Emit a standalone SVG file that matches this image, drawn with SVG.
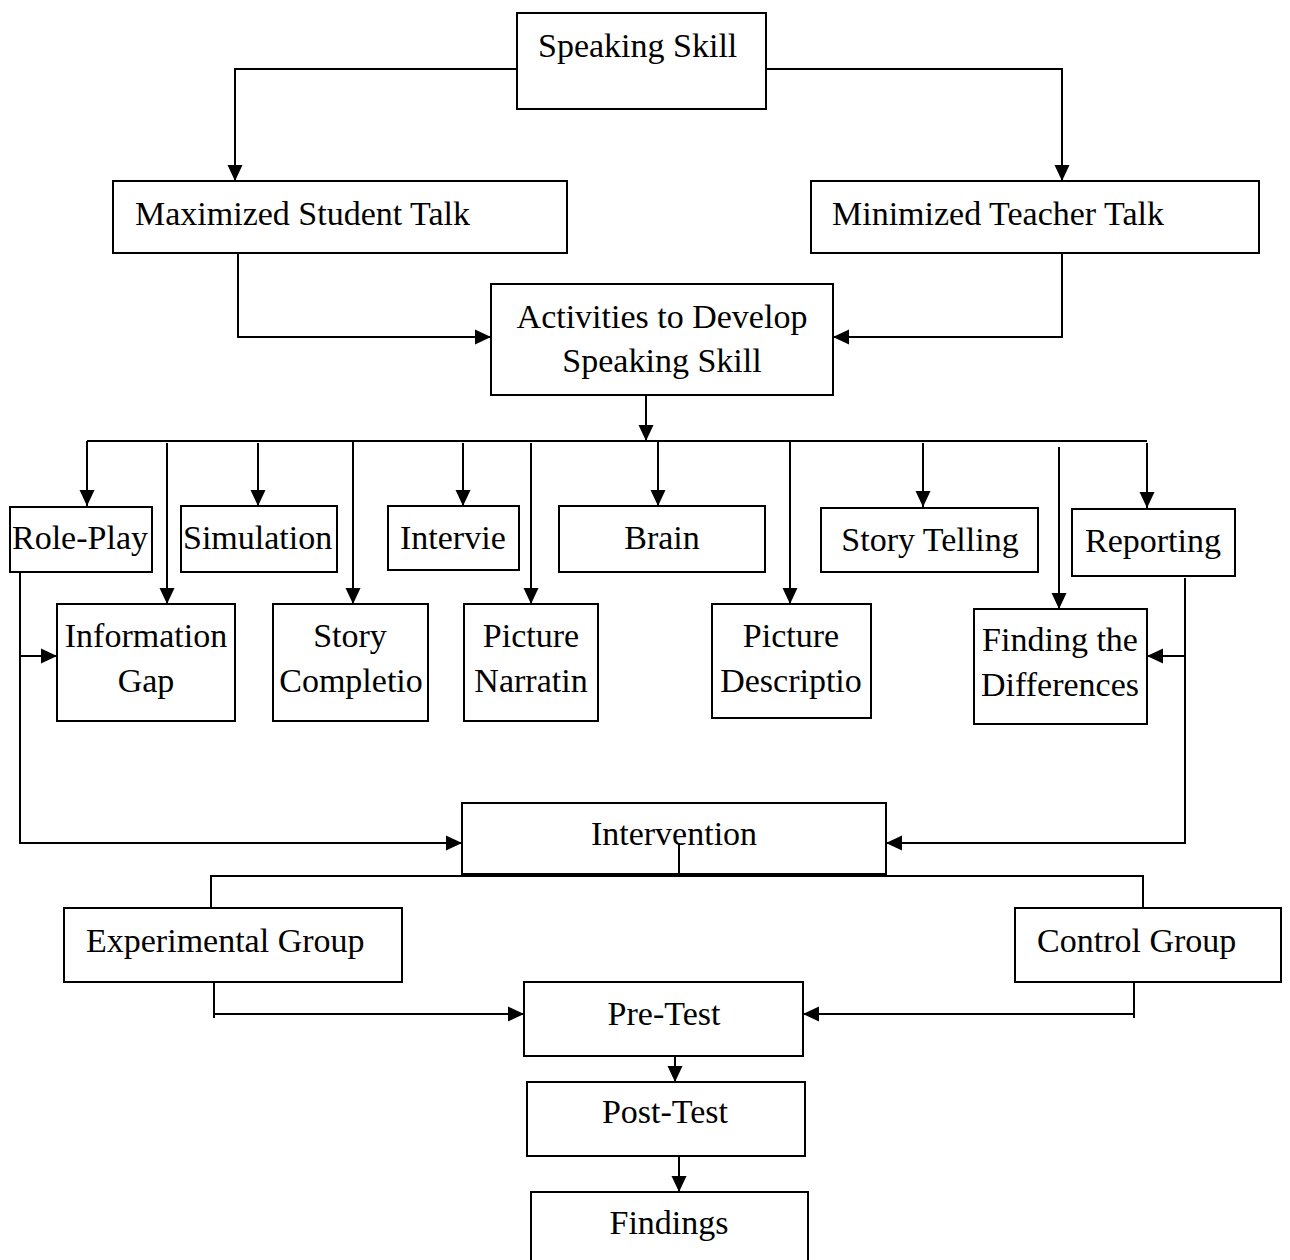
<svg xmlns="http://www.w3.org/2000/svg" width="1290" height="1260" viewBox="0 0 1290 1260">
<style>
.box{fill:#fff;stroke:#000;stroke-width:2}
.t{font-family:"Liberation Serif","Times New Roman",serif;font-size:34px;fill:#000}
.c{fill:none;stroke:#000;stroke-width:2}
.a{fill:none;stroke:#000;stroke-width:2;marker-end:url(#ah)}
</style>
<defs>
<marker id="ah" markerUnits="userSpaceOnUse" markerWidth="18" markerHeight="18" viewBox="0 0 18 18" refX="16" refY="9" orient="auto">
<path d="M0,1.5 L16,9 L0,16.5 Z" fill="#000"/>
</marker>
</defs>
<rect width="1290" height="1260" fill="#fff"/>
<g id="connectors">
<path class="a" d="M517,69 H235 V181"/>
<path class="a" d="M766,69 H1062 V181"/>
<path class="a" d="M238,253 V337 H491"/>
<path class="a" d="M1062,253 V337 H833"/>
<path class="a" d="M646,395 V441"/>
<path class="c" d="M87,441 H1147"/>
<path class="a" d="M87,441 V506"/>
<path class="a" d="M167,443 V604"/>
<path class="a" d="M258,443 V506"/>
<path class="a" d="M353,441 V604"/>
<path class="a" d="M463,443 V506"/>
<path class="a" d="M531,443 V604"/>
<path class="a" d="M658,441 V506"/>
<path class="a" d="M790,441 V604"/>
<path class="a" d="M923,443 V507"/>
<path class="a" d="M1059,447 V609"/>
<path class="a" d="M1147,443 V508"/>
<path class="a" d="M20,572 V843 H462"/>
<path class="a" d="M20,656 H57"/>
<path class="a" d="M1185,578 V843 H886"/>
<path class="a" d="M1185,656 H1147"/>
<path class="c" d="M679,843 V876"/>
<path class="c" d="M211,908 V876 H1143 V908"/>
<path class="c" d="M214,982 V1018"/>
<path class="a" d="M214,1014 H524"/>
<path class="c" d="M1134,982 V1018"/>
<path class="a" d="M1134,1014 H803"/>
<path class="a" d="M675,1052 V1082"/>
<path class="a" d="M679,1156 V1192"/>
</g>
<g id="speaking-skill"><rect class="box" x="517" y="13" width="249" height="96"/><text class="t" x="538" y="57">Speaking Skill</text></g>
<g id="maximized"><rect class="box" x="113" y="181" width="454" height="72"/><text class="t" x="135" y="225">Maximized Student Talk</text></g>
<g id="minimized"><rect class="box" x="811" y="181" width="448" height="72"/><text class="t" x="832" y="225">Minimized Teacher Talk</text></g>
<g id="activities"><rect class="box" x="491" y="284" width="342" height="111"/><text class="t" x="662" y="328" text-anchor="middle">Activities to Develop</text><text class="t" x="662" y="372" text-anchor="middle">Speaking Skill</text></g>
<g id="role-play"><rect class="box" x="10" y="507" width="142" height="65"/><text class="t" x="12" y="549">Role-Play</text></g>
<g id="simulation"><rect class="box" x="181" y="506" width="156" height="66"/><text class="t" x="183" y="549">Simulation</text></g>
<g id="intervie"><rect class="box" x="388" y="506" width="131" height="64"/><text class="t" x="400" y="549">Intervie</text></g>
<g id="brain"><rect class="box" x="559" y="506" width="206" height="66"/><text class="t" x="662" y="549" text-anchor="middle">Brain</text></g>
<g id="story-telling"><rect class="box" x="821" y="508" width="217" height="64"/><text class="t" x="930" y="551" text-anchor="middle">Story Telling</text></g>
<g id="reporting"><rect class="box" x="1072" y="509" width="163" height="67"/><text class="t" x="1153" y="552" text-anchor="middle">Reporting</text></g>
<g id="information-gap"><rect class="box" x="57" y="604" width="178" height="117"/><text class="t" x="146" y="647" text-anchor="middle">Information</text><text class="t" x="146" y="692" text-anchor="middle">Gap</text></g>
<g id="story-completion"><rect class="box" x="273" y="604" width="155" height="117"/><text class="t" x="350" y="647" text-anchor="middle">Story</text><text class="t" x="351" y="692" text-anchor="middle">Completio</text></g>
<g id="picture-narration"><rect class="box" x="464" y="604" width="134" height="117"/><text class="t" x="531" y="647" text-anchor="middle">Picture</text><text class="t" x="531" y="692" text-anchor="middle">Narratin</text></g>
<g id="picture-description"><rect class="box" x="712" y="604" width="159" height="114"/><text class="t" x="791" y="647" text-anchor="middle">Picture</text><text class="t" x="791" y="692" text-anchor="middle">Descriptio</text></g>
<g id="finding-differences"><rect class="box" x="974" y="609" width="173" height="115"/><text class="t" x="1060" y="651" text-anchor="middle">Finding the</text><text class="t" x="1060" y="696" text-anchor="middle">Differences</text></g>
<g id="intervention"><rect class="box" x="462" y="803" width="424" height="71" style="fill:none"/><text class="t" x="674" y="845" text-anchor="middle">Intervention</text></g>
<g id="experimental-group"><rect class="box" x="64" y="908" width="338" height="74"/><text class="t" x="86" y="952">Experimental Group</text></g>
<g id="control-group"><rect class="box" x="1015" y="908" width="266" height="74"/><text class="t" x="1037" y="952">Control Group</text></g>
<g id="pre-test"><rect class="box" x="524" y="982" width="279" height="74"/><text class="t" x="664" y="1025" text-anchor="middle">Pre-Test</text></g>
<g id="post-test"><rect class="box" x="527" y="1082" width="278" height="74"/><text class="t" x="665" y="1123" text-anchor="middle">Post-Test</text></g>
<g id="findings"><rect class="box" x="531" y="1192" width="277" height="80"/><text class="t" x="669" y="1234" text-anchor="middle">Findings</text></g>
</svg>
